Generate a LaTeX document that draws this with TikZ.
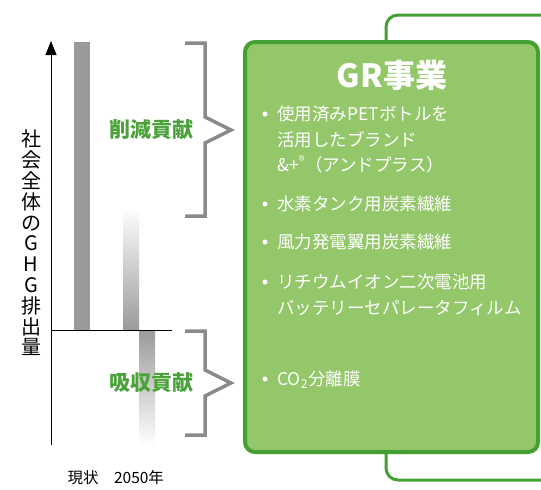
\documentclass[tikz,border=0pt]{standalone}
\usepackage{fontspec}
\usepackage{xcolor}
\usepackage{tikz}
\usetikzlibrary{arrows.meta,positioning}

\newfontfamily\jpfont{Noto Sans CJK JP}

\definecolor{grfill}{HTML}{93C76A}
\definecolor{grline}{HTML}{43A033}
\definecolor{grlabel}{HTML}{4BA23A}
\definecolor{brgray}{HTML}{8A8A8A}
\definecolor{bargray}{HTML}{9A9A9A}

\begin{document}
\begin{tikzpicture}[
    x=1pt, y=-1pt,
    bar/.style={fill=bargray, draw=none},
    fadebar/.style={draw=none, shading=axis, shading angle=0},
    brace/.style={draw=brgray, line width=3.5pt, line join=miter},
    contrib/.style={font=\jpfont\bfseries\fontsize{21}{24}\selectfont,
                    text=grlabel, inner sep=0pt},
    item/.style={font=\jpfont\fontsize{17.5}{25.5}\selectfont, text=white,
                 align=left, inner sep=0pt, anchor=north west},
    dot/.style={circle, fill=white, inner sep=0pt, minimum size=5pt},
    axislabel/.style={font=\jpfont\fontsize{15.5}{18}\selectfont, inner sep=0pt}
]
\useasboundingbox (0,0) rectangle (541,490);

% back frame (runs off the right edge)
\draw[grline, line width=3pt, rounded corners=12pt]
    (545,15) -- (386,15) -- (386,480) -- (545,480);

% GR box
\node[draw=grline, line width=4pt, fill=grfill, rounded corners=10pt,
      minimum width=293pt, minimum height=410pt, anchor=north west,
      inner sep=0pt] (grbox) at (243,40) {};
\node[font=\jpfont\bfseries\fontsize{32}{36}\selectfont, text=white,
      inner sep=0pt] (title) at (392,75) {GR事業};

% items
\node[dot] (b1) at (265,114) {};
\node[item] (it1) at (277,106) {使用済みPETボトルを\\活用したブランド\\\&+\textsuperscript{®}（アンドプラス）};
\node[dot] (b2) at (265,204) {};
\node[item] (it2) at (277,196) {水素タンク用炭素繊維};
\node[dot] (b3) at (265,242) {};
\node[item] (it3) at (277,234) {風力発電翼用炭素繊維};
\node[dot] (b4) at (265,282) {};
\node[item] (it4) at (277,274) {リチウムイオン二次電池用\\バッテリーセパレータフィルム};
\node[dot] (b5) at (265,379) {};
\node[item] (it5) at (277,371) {CO\textsubscript{2}分離膜};

% bars
\fill[bar] (74,42) rectangle (90,330);
\shade[fadebar, top color=white, bottom color=bargray] (123,207) rectangle (139,330);
\shade[fadebar, top color=bargray, bottom color=white] (139,330) rectangle (155,445);

% axes
\coordinate (origin) at (51,445);
\coordinate (top) at (51,41);
\coordinate (zero) at (51,330);
\coordinate (zeroend) at (172,330);
\draw[line width=0.8pt, -{Triangle[length=14pt,width=11pt]}] (origin) -- (top);
\draw[line width=0.8pt] (zero) -- (zeroend);

\node[font=\jpfont\fontsize{20}{20.8}\selectfont, align=center, inner sep=0pt]
    (ylabel) at (31,243) {社\\会\\全\\体\\の\\G\\H\\G\\排\\出\\量};

\node[axislabel] (now) at (83,478) {現状};
\node[axislabel] (future) at (139,478) {2050年};

% braces
\draw[brace] (185,43) -- (205,43) -- (205,117) -- (231,130) -- (205,143) -- (205,216) -- (185,216);
\draw[brace] (185,331) -- (205,331) -- (205,370) -- (231,383) -- (205,396) -- (205,435) -- (185,435);

\node[contrib] (reduce) at (151,130) {削減貢献};
\node[contrib] (absorb) at (151,383) {吸収貢献};
\end{tikzpicture}
\end{document}
